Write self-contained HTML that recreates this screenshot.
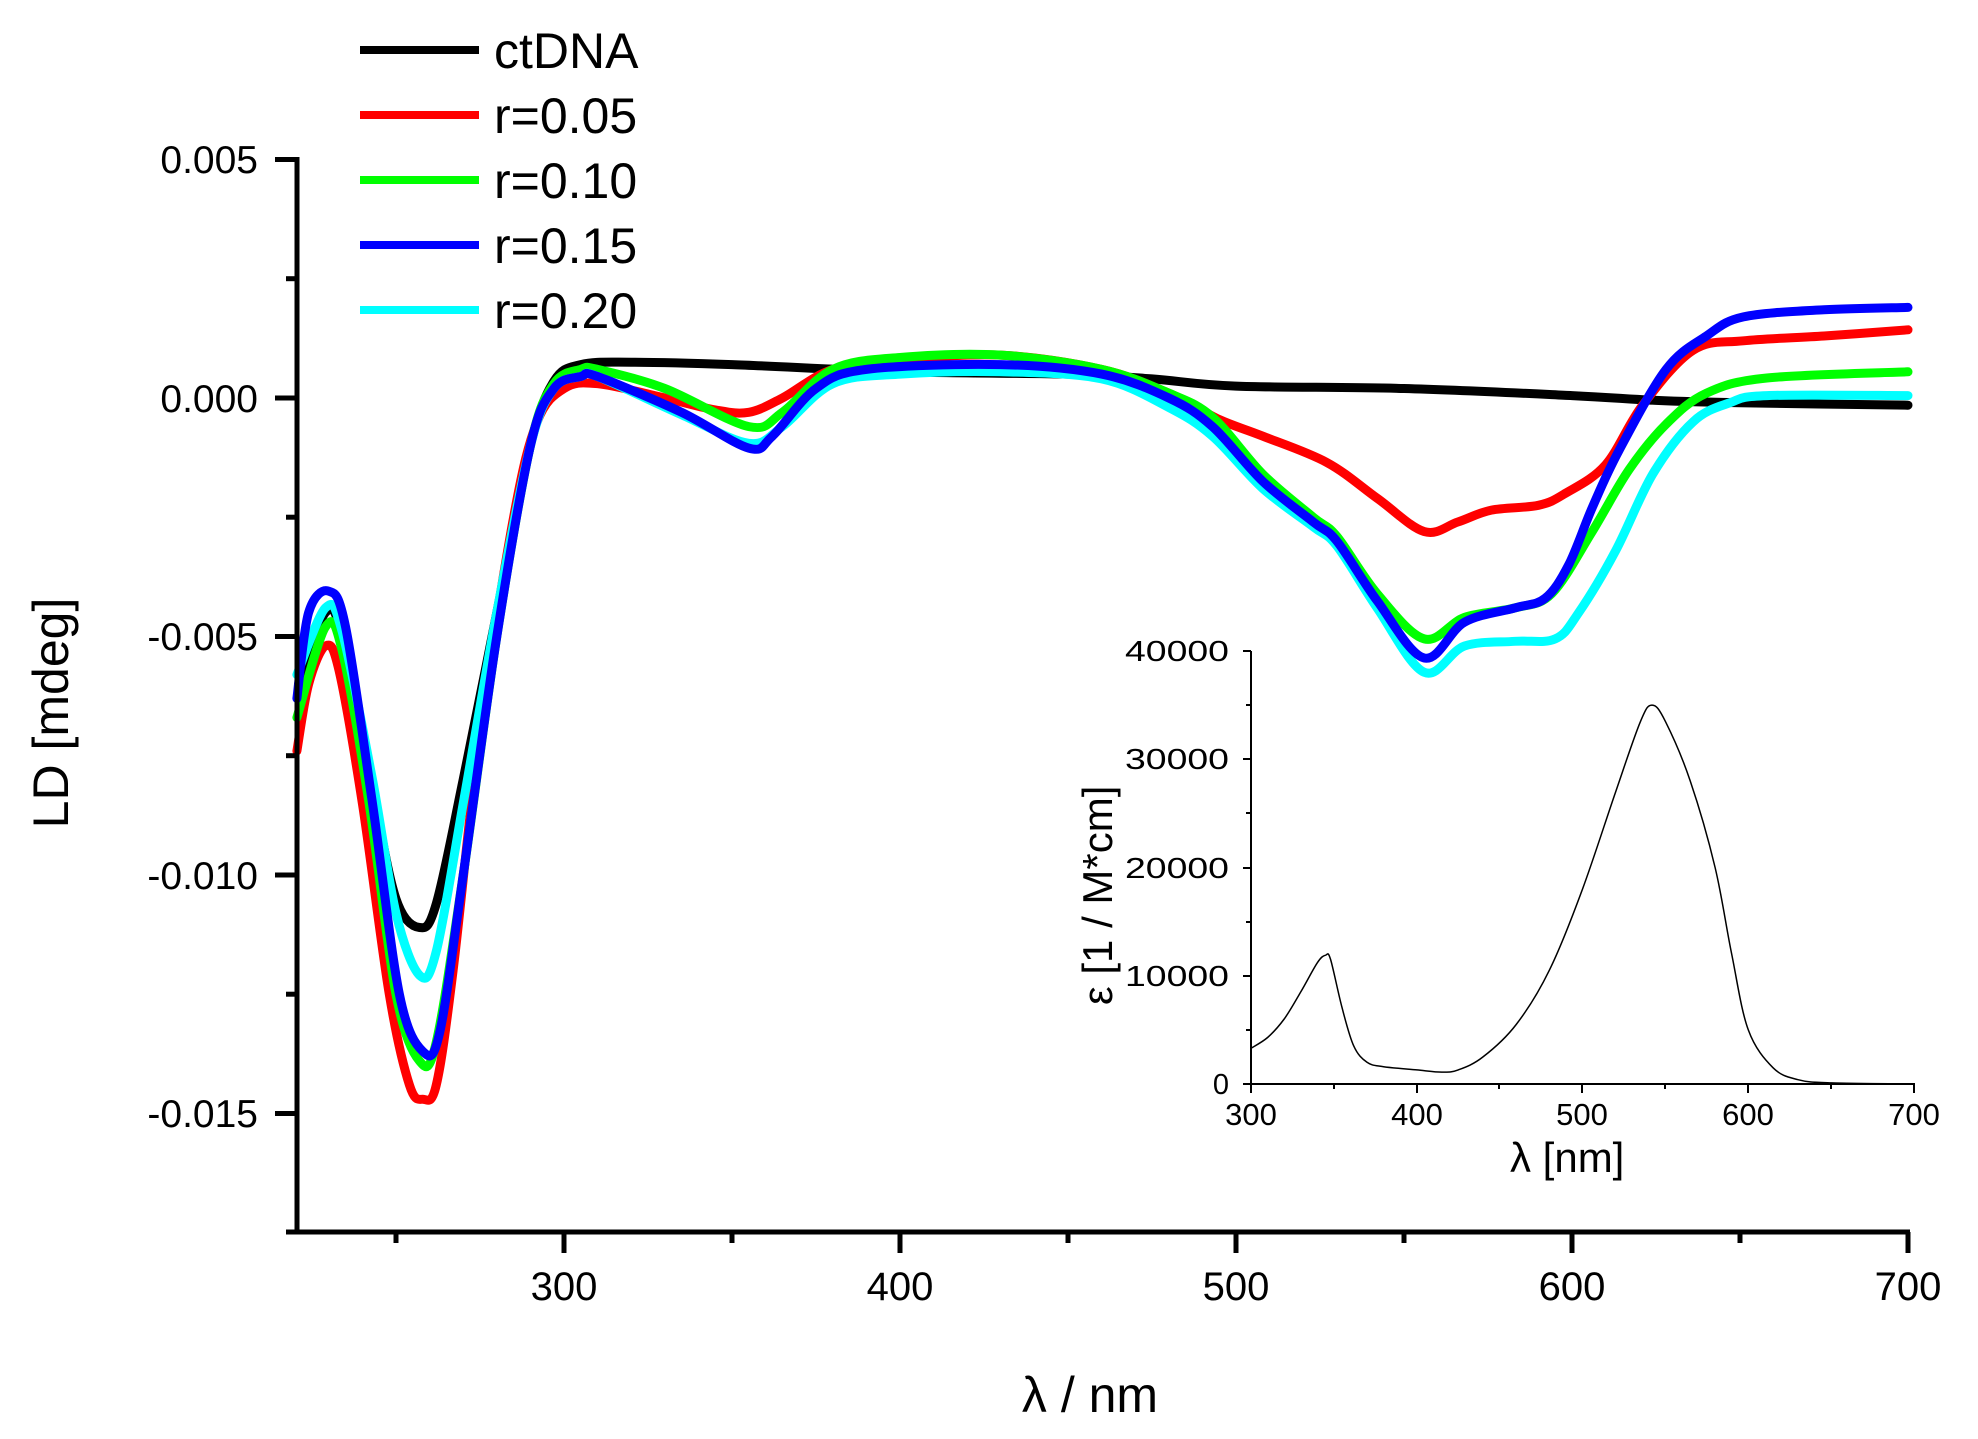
<!DOCTYPE html>
<html><head><meta charset="utf-8"><style>
html,body{margin:0;padding:0;background:#fff;}
svg{display:block;}
text{font-family:"Liberation Sans",Arial,sans-serif;fill:#000;}
</style></head><body>
<svg id="s" width="1978" height="1439" viewBox="0 0 1978 1439" xmlns="http://www.w3.org/2000/svg">
<rect width="1978" height="1439" fill="#fff"/>
<g id="curves" fill="none" stroke-width="9" stroke-linejoin="round" stroke-linecap="round"></g>
<!-- main axes -->
<g stroke="#000" stroke-width="5" fill="none">
<line x1="297" y1="157" x2="297" y2="1234"/>
<line x1="286" y1="1232" x2="1910" y2="1232"/>
<line x1="275" y1="159.5" x2="297" y2="159.5"/>
<line x1="275" y1="398" x2="297" y2="398"/>
<line x1="275" y1="636.5" x2="297" y2="636.5"/>
<line x1="275" y1="875" x2="297" y2="875"/>
<line x1="275" y1="1113.5" x2="297" y2="1113.5"/>
<line x1="286" y1="278.7" x2="297" y2="278.7"/>
<line x1="286" y1="517.2" x2="297" y2="517.2"/>
<line x1="286" y1="755.7" x2="297" y2="755.7"/>
<line x1="286" y1="994.2" x2="297" y2="994.2"/>
<line x1="564" y1="1232" x2="564" y2="1253"/>
<line x1="900" y1="1232" x2="900" y2="1253"/>
<line x1="1236" y1="1232" x2="1236" y2="1253"/>
<line x1="1572" y1="1232" x2="1572" y2="1253"/>
<line x1="1908" y1="1232" x2="1908" y2="1253"/>
<line x1="396" y1="1232" x2="396" y2="1243"/>
<line x1="732" y1="1232" x2="732" y2="1243"/>
<line x1="1068" y1="1232" x2="1068" y2="1243"/>
<line x1="1404" y1="1232" x2="1404" y2="1243"/>
<line x1="1740" y1="1232" x2="1740" y2="1243"/>
</g>
<g font-size="39" text-anchor="end">
<text x="258" y="173">0.005</text>
<text x="258" y="412">0.000</text>
<text x="258" y="650">-0.005</text>
<text x="258" y="889">-0.010</text>
<text x="258" y="1127">-0.015</text>
</g>
<g font-size="40" text-anchor="middle">
<text x="564" y="1300">300</text>
<text x="900" y="1300">400</text>
<text x="1236" y="1300">500</text>
<text x="1572" y="1300">600</text>
<text x="1908" y="1300">700</text>
</g>
<text x="1090" y="1412" font-size="50" text-anchor="middle">λ / nm</text>
<text transform="translate(68,713) rotate(-90)" font-size="50" text-anchor="middle">LD [mdeg]</text>
<!-- legend -->
<g stroke-width="8">
<line x1="360" y1="50" x2="479" y2="50" stroke="#000"/>
<line x1="360" y1="115" x2="479" y2="115" stroke="#ff0000"/>
<line x1="360" y1="180" x2="479" y2="180" stroke="#00ff00"/>
<line x1="360" y1="245" x2="479" y2="245" stroke="#0000ff"/>
<line x1="360" y1="310" x2="479" y2="310" stroke="#00ffff"/>
</g>
<g font-size="50">
<text x="494" y="68">ctDNA</text>
<text x="494" y="133">r=0.05</text>
<text x="494" y="198">r=0.10</text>
<text x="494" y="263">r=0.15</text>
<text x="494" y="328">r=0.20</text>
</g>
<!-- inset -->
<g stroke="#000" stroke-width="2" fill="none">
<line x1="1251" y1="651" x2="1251" y2="1085"/>
<line x1="1250" y1="1084" x2="1915" y2="1084"/>
<line x1="1243" y1="651" x2="1251" y2="651"/>
<line x1="1243" y1="759" x2="1251" y2="759"/>
<line x1="1243" y1="868" x2="1251" y2="868"/>
<line x1="1243" y1="976" x2="1251" y2="976"/>
<line x1="1243" y1="1084" x2="1251" y2="1084"/>
<line x1="1246" y1="705" x2="1251" y2="705"/>
<line x1="1246" y1="813" x2="1251" y2="813"/>
<line x1="1246" y1="922" x2="1251" y2="922"/>
<line x1="1246" y1="1030" x2="1251" y2="1030"/>
<line x1="1251" y1="1084" x2="1251" y2="1093"/>
<line x1="1417" y1="1084" x2="1417" y2="1093"/>
<line x1="1582" y1="1084" x2="1582" y2="1093"/>
<line x1="1748" y1="1084" x2="1748" y2="1093"/>
<line x1="1914" y1="1084" x2="1914" y2="1093"/>
<line x1="1334" y1="1084" x2="1334" y2="1089"/>
<line x1="1499" y1="1084" x2="1499" y2="1089"/>
<line x1="1665" y1="1084" x2="1665" y2="1089"/>
<line x1="1831" y1="1084" x2="1831" y2="1089"/>
</g>
<g id="inset" fill="none" stroke="#000" stroke-width="1.5"></g>
<g font-size="29" text-anchor="end">
<text x="1229" y="661" textLength="104" lengthAdjust="spacingAndGlyphs">40000</text>
<text x="1229" y="769" textLength="104" lengthAdjust="spacingAndGlyphs">30000</text>
<text x="1229" y="878" textLength="104" lengthAdjust="spacingAndGlyphs">20000</text>
<text x="1229" y="986" textLength="104" lengthAdjust="spacingAndGlyphs">10000</text>
<text x="1229" y="1094">0</text>
</g>
<g font-size="31" text-anchor="middle">
<text x="1251" y="1125">300</text>
<text x="1417" y="1125">400</text>
<text x="1582" y="1125">500</text>
<text x="1748" y="1125">600</text>
<text x="1914" y="1125">700</text>
</g>
<text x="1510" y="1172" font-size="42">λ  [nm]</text>
<text transform="translate(1112,1005) rotate(-90)" font-size="42">ε [1 / M*cm]</text>
</svg>
<script>
(function(){
var NS="http://www.w3.org/2000/svg";
function X(l){return 564+(l-300)*3.36;}
function Y(v){return 398-v*47.7;}
function IX(l){return 1251+(l-300)*1.6575;}
function IY(e){return 1084-e*10.825;}
function path(pts,fx,fy){
 var p=pts.map(function(a){return [fx(a[0]),fy(a[1])];});
 var d="M"+p[0][0].toFixed(1)+","+p[0][1].toFixed(1);
 for(var i=0;i<p.length-1;i++){
  var p0=p[i-1]||p[i],p1=p[i],p2=p[i+1],p3=p[i+2]||p2;
  var c1x=p1[0]+(p2[0]-p0[0])/6,c1y=p1[1]+(p2[1]-p0[1])/6;
  var c2x=p2[0]-(p3[0]-p1[0])/6,c2y=p2[1]-(p3[1]-p1[1])/6;
  d+="C"+c1x.toFixed(1)+","+c1y.toFixed(1)+" "+c2x.toFixed(1)+","+c2y.toFixed(1)+" "+p2[0].toFixed(1)+","+p2[1].toFixed(1);
 }
 return d;
}
var series=[
["#000000",[[221,-6],[229,-4.5],[234,-5.0],[243,-8.2],[250,-10.5],[257,-11.1],[262,-10.6],[270,-8],[280,-4.5],[290,-1],[297,0.35],[305,0.7],[320,0.75],[350,0.7],[400,0.55],[450,0.5],[475,0.4],[500,0.25],[550,0.2],[600,0.05],[625,-0.05],[650,-0.1],[700,-0.15]]],
["#ff0000",[[220.5,-7.4],[224,-6],[229,-5.2],[233,-5.7],[240,-8.5],[248,-12.5],[254,-14.4],[258,-14.7],[262,-14.4],[267,-12],[275,-7],[285,-2.5],[292,-0.5],[300,0.2],[310,0.3],[330,0],[345,-0.25],[355,-0.3],[365,0],[380,0.6],[400,0.8],[430,0.9],[460,0.6],[480,0.1],[495,-0.45],[508,-0.8],[527,-1.35],[542,-2.1],[556,-2.8],[566,-2.6],[576,-2.35],[590,-2.25],[598,-2.0],[610,-1.4],[621,-0.15],[636,1.0],[651,1.2],[675,1.3],[700,1.43]]],
["#00ff00",[[220.5,-6.7],[229,-4.8],[234,-5.3],[242,-8.5],[250,-12.5],[257,-13.9],[262,-13.5],[270,-10],[280,-5],[290,-1],[297,0.3],[305,0.6],[310,0.6],[330,0.2],[355,-0.6],[365,-0.3],[380,0.6],[400,0.85],[430,0.9],[460,0.6],[480,0.1],[493,-0.4],[508,-1.6],[523,-2.5],[530,-2.9],[542,-4.1],[556,-5.05],[568,-4.6],[583,-4.4],[594,-4.1],[606,-2.8],[617,-1.5],[628,-0.55],[640,0.1],[658,0.42],[700,0.55]]],
["#00ffff",[[220.5,-5.8],[229,-4.4],[234,-4.9],[243,-8],[250,-10.8],[257,-12.1],[262,-11.6],[270,-8.5],[280,-4.5],[290,-1],[297,0.2],[305,0.45],[310,0.45],[335,-0.35],[355,-0.95],[365,-0.6],[380,0.3],[400,0.5],[430,0.55],[460,0.4],[480,-0.2],[493,-0.8],[508,-1.9],[523,-2.7],[530,-3.1],[542,-4.4],[556,-5.75],[568,-5.2],[583,-5.1],[595,-5.05],[602,-4.5],[613,-3.2],[624,-1.6],[636,-0.5],[647,-0.1],[658,0.05],[700,0.05]]],
["#0000ff",[[220.5,-6.3],[224,-4.5],[230,-4.05],[235,-4.8],[243,-8.5],[251,-12.5],[258,-13.7],[263,-13.3],[270,-10],[280,-5],[290,-1],[297,0.2],[305,0.45],[310,0.45],[335,-0.3],[355,-1.05],[362,-0.8],[375,0.2],[390,0.6],[430,0.7],[460,0.5],[480,0.0],[493,-0.6],[508,-1.75],[523,-2.6],[530,-3.0],[542,-4.25],[556,-5.45],[568,-4.7],[583,-4.4],[592,-4.2],[599,-3.5],[606,-2.3],[614,-1.1],[628,0.6],[640,1.3],[651,1.7],[675,1.85],[700,1.9]]]
];
var g=document.getElementById("curves");
series.forEach(function(s){
 var el=document.createElementNS(NS,"path");
 el.setAttribute("d",path(s[1],X,Y));el.setAttribute("stroke",s[0]);g.appendChild(el);
});
var ins=[[300,3.3],[310,4.3],[320,6],[330,8.5],[340,11.2],[345,11.9],[348,11.5],[355,7],[362,3.5],[370,2],[380,1.6],[400,1.3],[415,1.1],[425,1.3],[440,2.5],[460,5.5],[480,10.5],[500,18],[520,27],[535,33.5],[542,35],[550,33.5],[565,28],[580,20],[590,12],[600,5],[615,1.5],[630,0.4],[650,0.1],[700,0]];
var e=document.createElementNS(NS,"path");
e.setAttribute("d",path(ins,IX,IY));document.getElementById("inset").appendChild(e);
})();
</script>
</body></html>
